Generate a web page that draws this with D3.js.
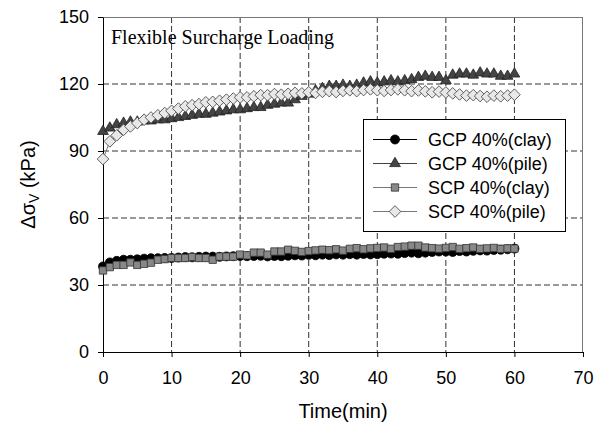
<!DOCTYPE html>
<html>
<head>
<meta charset="utf-8">
<script src="https://cdn.jsdelivr.net/npm/d3@7"></script>
<style>
  body { margin: 0; background: #fff; }
</style>
</head>
<body>
<div id="chart"></div>
<script>
// time in minutes, one reading per minute
var times = d3.range(0, 61);

var gcpClay = [38.3,40.1,40.8,41.3,41.3,41.5,41.8,42,42,42.1,42.1,42.3,42.5,42.4,42.6,42.7,42.7,42.6,42.8,42.9,
  43,42.9,43,43.1,42.8,43,42.9,43.1,43.3,43.2,43.5,43.3,43.6,43.4,43.7,43.6,43.8,43.6,43.9,43.7,
  43.8,44,44.1,44,44.3,44.5,44.2,44.5,44.8,45,45,44.8,45.2,45,45.3,45.5,45.4,45.7,45.8,46,46.3];

var gcpPile = [98.8,100.3,101.8,102.5,103,103,103.5,103.5,104,104,104.5,105,105.5,106,106.5,106.5,107,107.5,108,108.5,
  108.5,109,109.5,109.5,110.5,111,111.5,111.5,113,114.5,115.5,117,118,119,119,119.5,119,119.5,120.5,121,
  120.5,121,121.5,121,121.5,122,123,123.5,123,123,121.5,124,124.5,124.5,124,125,124.5,124.5,123.5,123.5,124.5];

var scpClay = [36.5,38,39,39,40.1,39,39.5,40,41.3,41.6,42.1,42.1,42.1,42.5,42.1,42.1,41.3,42.7,42.7,42.7,
  43.6,43.3,44.5,44.5,43.6,45,45,45.8,45.3,44.8,45.2,45.5,45.8,45.6,46,45.4,46.2,46.5,46,46.4,
  46.6,46.8,46.2,47,47.2,47.6,47.6,46.8,46.5,46.3,46.6,47,46.2,46.5,46.8,46.2,46.4,46.6,46.2,46.4,46.3];

var scpPile = [86.4,94.3,97,99.5,101,102.5,104,105,106,107,108,109,110,110.5,111,111.8,112,112.5,113,113.5,
  114,114,114.5,115,115,115.5,115.2,115.6,116,115.8,116.3,116,116.5,116.8,116.4,116.9,117.2,116.8,117.3,117.6,
  117.2,116.9,117.3,117.6,117.2,116.8,117.1,116.7,116.3,116.6,116.2,115.8,115.3,114.8,115,114.6,114.3,114.8,114.5,114.8,115.2];

var seriesNames = ["GCP 40%(clay)", "GCP 40%(pile)", "SCP 40%(clay)", "SCP 40%(pile)"];
var xTicks = [0, 10, 20, 30, 40, 50, 60, 70];
var yTicks = [0, 30, 60, 90, 120, 150];

var sans = "Arial, 'Liberation Sans', sans-serif";
var W = 606, H = 426;
var margin = {left: 103, top: 17, right: 23, bottom: 74};
var w = W - margin.left - margin.right,
    h = H - margin.top - margin.bottom;

var svg = d3.select("#chart").append("svg")
    .attr("width", W)
    .attr("height", H)
    .style("font-family", sans);

var g = svg.append("g")
    .attr("transform", "translate(" + margin.left + "," + margin.top + ")");

var x = d3.scaleLinear().domain([0, 70]).range([0, w]);
var y = d3.scaleLinear().domain([0, 150]).range([h, 0]);

// dashed grid
g.selectAll("line.vgrid")
  .data(xTicks.slice(1, -1))
  .enter().append("line")
    .attr("x1", function(d) { return x(d); })
    .attr("x2", function(d) { return x(d); })
    .attr("y1", 0).attr("y2", h)
    .attr("stroke", "#333").attr("stroke-dasharray", "6,3");
g.selectAll("line.hgrid")
  .data(yTicks.slice(1, -1))
  .enter().append("line")
    .attr("x1", 0).attr("x2", w)
    .attr("y1", function(d) { return y(d); })
    .attr("y2", function(d) { return y(d); })
    .attr("stroke", "#333").attr("stroke-dasharray", "6,3");

// frame top / right
g.append("line").attr("x1", 0).attr("x2", w).attr("y1", 0.5).attr("y2", 0.5)
  .attr("stroke", "#777");
g.append("line").attr("x1", w - 0.5).attr("x2", w - 0.5).attr("y1", 0).attr("y2", h)
  .attr("stroke", "#777");

// axes
var xAxis = g.append("g")
    .attr("transform", "translate(0," + h + ")")
    .call(d3.axisBottom(x).tickValues(xTicks).tickSize(5).tickSizeOuter(0).tickPadding(14));
var yAxis = g.append("g")
    .call(d3.axisLeft(y).tickValues(yTicks).tickSize(5).tickSizeOuter(0).tickPadding(9));
[xAxis, yAxis].forEach(function(a) {
  a.attr("font-family", sans);
  a.select(".domain").attr("stroke", "#000");
  a.selectAll(".tick line").attr("stroke", "#000");
  a.selectAll(".tick text").attr("font-size", 18).attr("fill", "#000");
});

// series
var series = [
  {name: seriesNames[0], values: gcpClay, sym: d3.symbolCircle, size: 64, rot: 0, fill: "#000", stroke: "#000", line: "#000"},
  {name: seriesNames[1], values: gcpPile, sym: d3.symbolTriangle, size: 50, rot: 0, fill: "#444", stroke: "#222", line: "#444"},
  {name: seriesNames[2], values: scpClay, sym: d3.symbolSquare, size: 54, rot: 0, fill: "#888", stroke: "#333", line: "#777"},
  {name: seriesNames[3], values: scpPile, sym: d3.symbolSquare, size: 68, rot: 45, fill: "#e8e8e8", stroke: "#444", line: "#777"}
];

var line = d3.line()
    .x(function(d) { return x(d[0]); })
    .y(function(d) { return y(d[1]); });

series.forEach(function(s) {
  var pts = times.map(function(t, i) { return [t, s.values[i]]; });
  var sg = g.append("g");
  sg.append("path")
    .attr("d", line(pts))
    .attr("fill", "none")
    .attr("stroke", s.line)
    .attr("stroke-width", 1);
  sg.selectAll("path.pt")
    .data(pts)
    .enter().append("path")
      .attr("class", "pt")
      .attr("d", d3.symbol().type(s.sym).size(s.size))
      .attr("transform", function(d) {
        return "translate(" + x(d[0]) + "," + y(d[1]) + ") rotate(" + s.rot + ")";
      })
      .attr("fill", s.fill)
      .attr("stroke", s.stroke)
      .attr("stroke-width", 0.8);
});

// title in plot
svg.append("text")
  .attr("x", 111).attr("y", 44)
  .style("font-family", "'Liberation Serif', 'Times New Roman', serif")
  .attr("font-size", 20)
  .text("Flexible Surcharge Loading");

// legend
var lg = svg.append("g");
lg.append("rect")
  .attr("x", 363.5).attr("y", 119.5)
  .attr("width", 202).attr("height", 112)
  .attr("fill", "#fff").attr("stroke", "#000");
series.forEach(function(s, i) {
  var cy = 139.5 + i * 24;
  lg.append("line")
    .attr("x1", 373).attr("x2", 417).attr("y1", cy).attr("y2", cy)
    .attr("stroke", s.line);
  lg.append("path")
    .attr("d", d3.symbol().type(s.sym).size(s.size))
    .attr("transform", "translate(395," + cy + ") rotate(" + s.rot + ")")
    .attr("fill", s.fill).attr("stroke", s.stroke).attr("stroke-width", 0.8);
  lg.append("text")
    .attr("x", 428).attr("y", cy + 6.5)
    .attr("font-size", 18)
    .text(s.name);
});

// axis titles
svg.append("text")
  .attr("x", margin.left + w / 2).attr("y", 418)
  .attr("text-anchor", "middle")
  .attr("font-size", 20)
  .text("Time(min)");

var yl = svg.append("text")
  .attr("transform", "translate(35," + (margin.top + h / 2) + ") rotate(-90)")
  .attr("text-anchor", "middle")
  .attr("font-size", 20);
yl.append("tspan").text("\u0394\u03c3");
yl.append("tspan").attr("font-size", 14).attr("dy", 4).text("V");
yl.append("tspan").attr("dy", -4).text(" (kPa)");
</script>
</body>
</html>
